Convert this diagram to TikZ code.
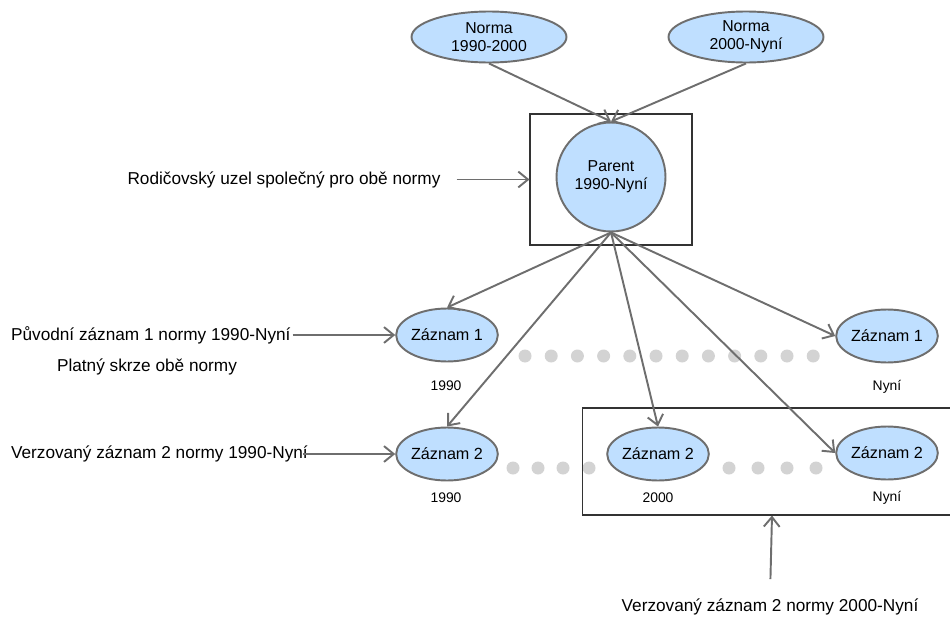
\documentclass[tikz,border=0pt]{standalone}
\usepackage{fontspec}
\setmainfont{Liberation Sans}
\usepackage{xcolor}
\usetikzlibrary{arrows.meta, shapes.geometric, positioning}

\definecolor{modra}{RGB}{191,223,255}
\definecolor{obrys}{RGB}{110,110,110}
\definecolor{tecky}{RGB}{211,211,211}

\begin{document}
\begin{tikzpicture}[
            x=0.02cm, y=-0.02cm,
            norma/.style={draw=obrys, line width=1.1pt, fill=modra, ellipse,
                minimum width=3.1cm, minimum height=1.02cm, inner sep=0pt,
                align=center, font=\fontsize{9}{10.2}\selectfont},
            zaznam/.style={draw=obrys, line width=1.1pt, fill=modra, ellipse,
                minimum width=2cm, minimum height=1.06cm, inner sep=0pt,
                font=\fontsize{9.2}{10.2}\selectfont},
            popis/.style={inner sep=1pt, font=\fontsize{9.8}{11}\selectfont},
            rok/.style={inner sep=0pt, font=\fontsize{7.9}{9}\selectfont},
            ramec/.style={draw=black!80, line width=0.6pt, inner sep=0pt},
            sipka/.style={draw=obrys, line width=1.1pt,
                -{Straight Barb[length=5.5pt,width=9pt]}},
            tecka/.style={fill=tecky}
          ]
            \useasboundingbox (0,0) rectangle (950,622);

            % tecky mezi verzemi
            \foreach \i in {0,...,11}
              \fill[tecka] ({525+26.2*\i},356) circle (0.13cm);
            \foreach \x in {513,538,563,589,729,758,787,816}
              \fill[tecka] (\x,468) circle (0.13cm);

            % ramecky
            \node[ramec, minimum width=3.24cm, minimum height=2.62cm] (pbox) at (611,179.5) {};
            \node[ramec, minimum width=7.6cm, minimum height=2.14cm] (vbox) at (772,461.5) {};

            % normy a rodic
            \node[norma] (n1) at (489,37) {Norma\\1990-2000};
            \node[norma] (n2) at (746,37) {Norma\\2000-Nyní};
            \node[norma, circle, minimum size=2.18cm] (parent) at (611,177) {Parent\\1990-Nyní};

            % zaznamy
            \node[zaznam] (z1l) at (447,335) {Záznam 1};
            \node[zaznam] (z1r) at (887,336) {Záznam 1};
            \node[zaznam] (z2l) at (447,454) {Záznam 2};
            \node[zaznam] (z2m) at (658,454) {Záznam 2};
            \node[zaznam] (z2r) at (887,453) {Záznam 2};

            \node[rok] (r1l) at (446,386) {1990};
            \node[rok] (r1r) at (887,387) {Nyní};
            \node[rok] (r2l) at (446,498) {1990};
            \node[rok] (r2m) at (658,498) {2000};
            \node[rok] (r2r) at (887,498) {Nyní};

            % popisky
            \node[popis] (t0) at (284,179.5) {Rodičovský uzel společný pro obě normy};
            \node[popis, anchor=west] (t1) at (9,335) {Původní záznam 1 normy 1990-Nyní};
            \node[popis] (t1b) at (147,367) {Platný skrze obě normy};
            \node[popis, anchor=west] (t2) at (9,454) {Verzovaný záznam 2 normy 1990-Nyní};
            \node[popis] (t3) at (770,607) {Verzovaný záznam 2 normy 2000-Nyní};

            % sipky
            \draw[sipka] (n1.south) -- (parent.north);
            \draw[sipka] (n2.south) -- (parent.north);
            \draw[sipka] (parent.south) -- (z1l.north);
            \draw[sipka] (parent.south) -- (z1r.west);
            \draw[sipka] (parent.south) -- (z2l.north);
            \draw[sipka] (parent.south) -- (z2m.north);
            \draw[sipka] (parent.south) -- (z2r.west);
            \draw[sipka, shorten <=8pt] (t0.east) -- (pbox.west);
            \draw[sipka] (t1.east) -- (z1l.west);
            \draw[sipka, shorten <=-4pt] (t2.east) -- (z2l.west);
            \draw[sipka, shorten <=10pt] (t3.north) -- (vbox.south);
          \end{tikzpicture}
\end{document}
